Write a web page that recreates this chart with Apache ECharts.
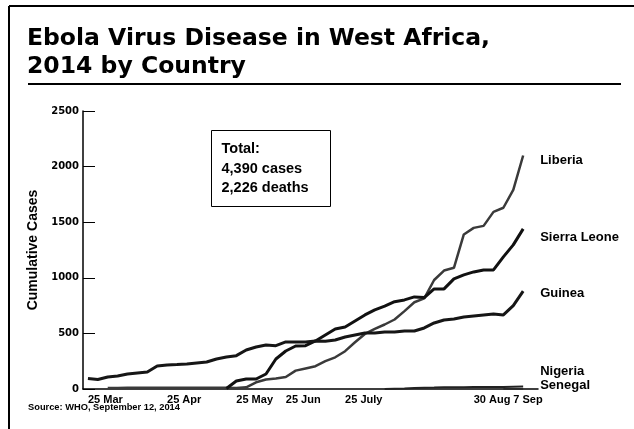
<!DOCTYPE html>
<html>
<head>
<meta charset="utf-8">
<script src="https://cdn.jsdelivr.net/npm/echarts@6/dist/echarts.min.js"></script>
<style>
  html, body { margin: 0; padding: 0; background: #fff; }
  #chart { width: 634px; height: 429px; }
</style>
</head>
<body>
<div id="chart"></div>
<script>
// x slots: WHO report points, spaced evenly as in the printed chart
const slotCount = 46;
const tickLabels = ['25 Mar', '25 Apr', '25 May', '25 Jun', '25 July', '30 Aug', '7 Sep'];
const tickSlots = [0, 8, 15, 20, 26, 39, 43];

// cumulative cases
const guinea = [95, 85, 108, 117, 135, 144, 153, 207, 216, 220, 225, 234, 243, 270, 288, 300,
  351, 378, 396, 390, 423, 423, 423, 432, 430, 441, 468, 486, 504, 504, 513, 513, 522, 522,
  549, 594, 621, 630, 648, 657, 666, 675, 666, 750, 880];
const sierraLeone = [null, null, null, null, null, null, null, null, null, null, null, null, null, null,
  5, 72, 90, 90, 135, 270, 342, 387, 390, 432, 486, 540, 558, 612, 666, 711, 745, 785, 801, 828,
  822, 900, 900, 990, 1026, 1053, 1071, 1071, 1188, 1296, 1440];
const liberia = [null, null, 8, 10, 12, 12, 12, 12, 12, 12, 12, 12, 12, 12, 12, 8, 15, 60, 85, 95,
  108, 165, 185, 205, 250, 285, 340, 420, 495, 540, 580, 625, 700, 780, 815, 980, 1065, 1090,
  1390, 1449, 1467, 1593, 1630, 1791, 2100];
const nigeria = [null, null, null, null, null, null, null, null, null, null, null, null, null, null, null,
  null, null, null, null, null, null, null, null, null, null, null, null, null, null, null,
  1, 3, 4, 10, 12, 13, 15, 15, 16, 17, 17, 18, 19, 21, 22];
const senegal = [null, null, null, null, null, null, null, null, null, null, null, null, null, null, null,
  null, null, null, null, null, null, null, null, null, null, null, null, null, null, null,
  null, null, null, null, null, null, null, null, null, null, null, null, 1, 1, 1];

const totalLines = ['Total:', '4,390 cases', '2,226 deaths'];
const yTicks = [0, 500, 1000, 1500, 2000, 2500];

const slots = Array.from({ length: slotCount }, (_, i) => String(i));
const font = 'Liberation Sans, Arial, sans-serif';

function lineSeries(name, data, color, width, offset) {
  return {
    name: name,
    type: 'line',
    data: data,
    showSymbol: false,
    connectNulls: false,
    silent: true,
    lineStyle: { color: color, width: width },
    endLabel: {
      show: true,
      formatter: name,
      distance: 17,
      offset: offset,
      color: '#000',
      fontFamily: font,
      fontWeight: 'bold',
      fontSize: 13
    }
  };
}

const chart = echarts.init(document.getElementById('chart'), null, { renderer: 'canvas' });

chart.setOption({
  animation: false,
  backgroundColor: '#fff',
  title: {
    text: 'Ebola Virus Disease in West Africa,\n2014 by Country',
    left: 22,
    top: 20,
    textStyle: {
      fontFamily: 'DejaVu Sans, sans-serif',
      fontWeight: 'bold',
      fontSize: 23.5,
      lineHeight: 28,
      color: '#000'
    }
  },
  grid: { left: 83, right: 96, top: 111, bottom: 40 },
  xAxis: {
    type: 'category',
    data: slots,
    boundaryGap: true,
    axisLine: { lineStyle: { color: '#000', width: 1.5 } },
    axisTick: { show: false },
    axisLabel: {
      interval: (index) => tickSlots.includes(index),
      formatter: (value, index) => tickLabels[tickSlots.indexOf(index)] || '',
      align: 'left',
      margin: 5,
      color: '#000',
      fontFamily: font,
      fontWeight: 'bold',
      fontSize: 11
    }
  },
  yAxis: {
    type: 'value',
    min: yTicks[0],
    max: yTicks[yTicks.length - 1],
    interval: 500,
    name: 'Cumulative Cases',
    nameLocation: 'middle',
    nameRotate: 90,
    nameGap: 37,
    nameTextStyle: { color: '#000', fontFamily: font, fontWeight: 'bold', fontSize: 14 },
    axisLine: { show: true, lineStyle: { color: '#000', width: 1.5 } },
    axisTick: { show: true, inside: true, length: 12, lineStyle: { color: '#000', width: 1 } },
    splitLine: { show: false },
    axisLabel: {
      margin: 4,
      formatter: (v) => String(v),
      color: '#000',
      fontFamily: 'DejaVu Sans, sans-serif',
      fontWeight: 'bold',
      fontSize: 10
    }
  },
  series: [
    lineSeries('Liberia', liberia, '#3a3a3a', 2.5, [0, 5]),
    lineSeries('Sierra Leone', sierraLeone, '#111', 3, [0, 9]),
    lineSeries('Guinea', guinea, '#161616', 3, [0, 2]),
    lineSeries('Nigeria', nigeria, '#222', 2, [0, -15]),
    lineSeries('Senegal', senegal, '#222', 1.5, [0, -3])
  ],
  graphic: [
    { type: 'line', shape: { x1: 9, y1: 6, x2: 634, y2: 6 }, style: { stroke: '#000', lineWidth: 2 } },
    { type: 'line', shape: { x1: 9, y1: 6, x2: 9, y2: 429 }, style: { stroke: '#000', lineWidth: 2 } },
    { type: 'line', shape: { x1: 28, y1: 84, x2: 621, y2: 84 }, style: { stroke: '#000', lineWidth: 2 } },
    {
      type: 'group',
      left: 211,
      top: 130,
      children: [
        { type: 'rect', shape: { x: 0, y: 0, width: 119, height: 76 }, style: { fill: '#fff', stroke: '#000', lineWidth: 1 } },
        {
          type: 'text',
          x: 10,
          y: 9,
          style: {
            text: totalLines.join('\n'),
            fill: '#000',
            font: 'bold 14.5px ' + font,
            lineHeight: 19.5
          }
        }
      ]
    },
    {
      type: 'text',
      left: 28,
      top: 403,
      style: { text: 'Source: WHO, September 12, 2014', fill: '#000', font: 'bold 9.3px ' + font }
    }
  ]
});
</script>
</body>
</html>
